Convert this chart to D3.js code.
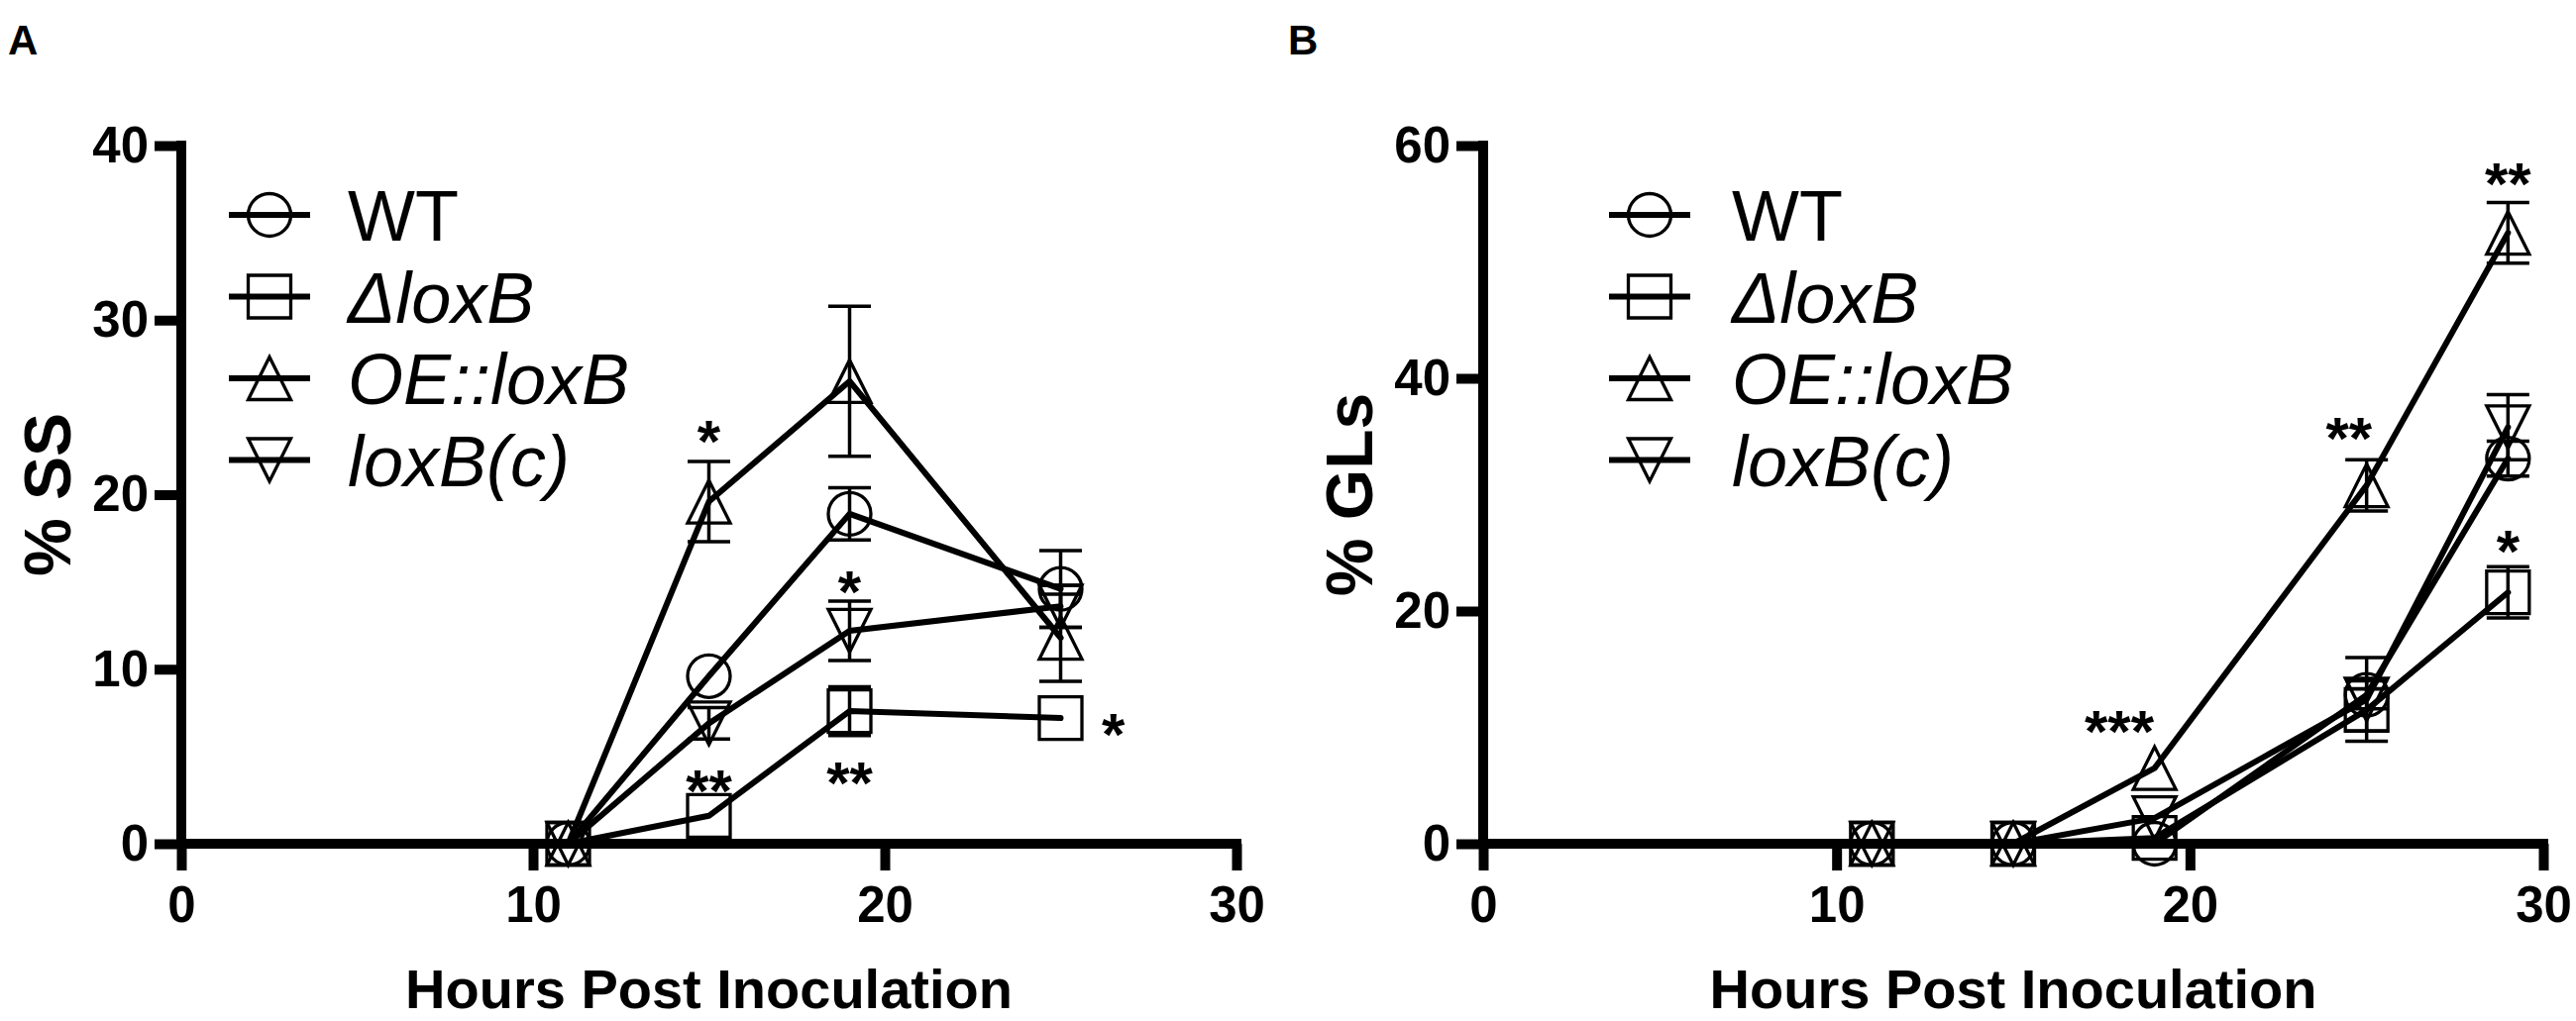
<!DOCTYPE html>
<html lang="en">
<head>
<meta charset="UTF-8">
<title>loxB time course</title>
<style>
  body { margin: 0; padding: 0; background: #fff; }
  svg { display: block; font-family: "Liberation Sans", Arial, sans-serif; }
  .axis text { font-size: 51px; font-weight: bold; fill: #000; }
  .axis line { stroke: #000; stroke-width: 10; }
</style>
</head>
<body>
<svg width="2600" height="1031"></svg>
<script src="https://d3js.org/d3.v7.min.js"></script>
<script>
const strains = ["WT", "\u0394loxB", "OE::loxB", "loxB(c)"];
const shapes = ["circle", "square", "triangle", "triangleDown"];

// panel A: % SS
const hoursA = [11, 15, 19, 25];
const ssWT = [0, 9.6, 18.9, 14.6];
const ssWTErr = [0, 0, 1.5, 2.2];
const ssDelta = [0, 1.6, 7.6, 7.2];
const ssDeltaErr = [0, 0, 1.4, 0];
const ssOE = [0, 19.6, 26.5, 11.8];
const ssOEErr = [0, 2.3, 4.3, 2.5];
const ssComp = [0, 6.9, 12.2, 13.6];
const ssCompErr = [0, 0.9, 1.7, 1.2];
const starsAx = [15, 19, 15, 19, 26.5];
const starsAy = [23.8, 15.2, 3.8, 4.25, 7.0];
const starsAtext = ["*", "*", "**", "**", "*"];
const ticksA = [0, 10, 20, 30, 40];

// panel B: % GLs
const hoursB = [11, 15, 19, 25, 29];
const glWT = [0, 0, 0, 12.8, 33.1];
const glWTErr = [0, 0, 0, 1.2, 1.5];
const glDelta = [0, 0, 0.5, 11.5, 21.6];
const glDeltaErr = [0, 0, 0, 1.8, 2.2];
const glOE = [0, 0, 6.5, 30.8, 52.5];
const glOEErr = [0, 0, 0, 2.2, 2.6];
const glComp = [0, 0, 2.2, 12.4, 35.8];
const glCompErr = [0, 0, 0, 3.6, 2.8];
const starsBx = [18.0, 24.5, 29, 29];
const starsBy = [10.8, 36.0, 57.8, 26.3];
const starsBtext = ["***", "**", "**", "*"];
const ticksB = [0, 20, 40, 60];

const xTicks = [0, 10, 20, 30];

const svg = d3.select("svg");
const markerSize = 43;

function markerPath(shape) {
  const h = markerSize / 2;
  if (shape === "circle") return `M${-h},0A${h},${h} 0 1,0 ${h},0A${h},${h} 0 1,0 ${-h},0Z`;
  if (shape === "square") return `M${-h},${-h}H${h}V${h}H${-h}Z`;
  if (shape === "triangle") return `M0,${-h}L${h},${h}L${-h},${h}Z`;
  return `M0,${h}L${h},${-h}L${-h},${-h}Z`;
}

function drawPanel(p, hours, means, errs, starX, starY, starText) {
  const x = d3.scaleLinear().domain([0, 30]).range([p.left, p.right]);
  const y = d3.scaleLinear().domain([0, p.yMax]).range([p.bottom, p.top]);
  const g = svg.append("g");

  // axes
  const xAxis = g.append("g").attr("class", "axis")
    .attr("transform", `translate(0,${p.bottom})`)
    .call(d3.axisBottom(x).tickValues(xTicks).tickSize(27).tickPadding(16).tickSizeOuter(0));
  const yAxis = g.append("g").attr("class", "axis")
    .attr("transform", `translate(${p.left},0)`)
    .call(d3.axisLeft(y).tickValues(p.yTicks).tickSize(27).tickPadding(6).tickSizeOuter(0));
  xAxis.select(".domain").remove();
  yAxis.select(".domain").remove();
  g.append("line")
    .attr("x1", x(0)).attr("x2", x(30)).attr("y1", y(0)).attr("y2", y(0))
    .attr("stroke", "#000").attr("stroke-width", 10).attr("stroke-linecap", "square");
  g.append("line")
    .attr("x1", x(0)).attr("x2", x(0)).attr("y1", y(0)).attr("y2", y(p.yMax))
    .attr("stroke", "#000").attr("stroke-width", 10).attr("stroke-linecap", "square");

  // axis titles
  g.append("text")
    .attr("transform", `translate(${p.left - 112},${(p.top + p.bottom) / 2}) rotate(-90)`)
    .attr("text-anchor", "middle")
    .attr("font-size", 66).attr("font-weight", "bold")
    .text(p.title);
  g.append("text")
    .attr("x", (p.left + p.right) / 2).attr("y", 1018)
    .attr("text-anchor", "middle")
    .attr("font-size", 56).attr("font-weight", "bold")
    .text("Hours Post Inoculation");

  g.append("text")
    .attr("x", p.letterX).attr("y", 55)
    .attr("font-size", 42).attr("font-weight", "bold")
    .text(p.letter);

  // error bars
  means.forEach((series, si) => {
    series.forEach((m, i) => {
      const e = errs[si][i];
      if (!e) return;
      const cx = x(hours[i]);
      const eb = g.append("g").attr("stroke", "#000").attr("stroke-width", 3.5);
      eb.append("line").attr("x1", cx).attr("x2", cx).attr("y1", y(m - e)).attr("y2", y(m + e));
      [m - e, m + e].forEach(v => {
        eb.append("line")
          .attr("x1", cx - markerSize / 2).attr("x2", cx + markerSize / 2)
          .attr("y1", y(v)).attr("y2", y(v));
      });
    });
  });

  // lines
  const line = d3.line().x((d, i) => x(hours[i])).y(d => y(d));
  means.forEach(series => {
    g.append("path")
      .attr("d", line(series))
      .attr("fill", "none").attr("stroke", "#000").attr("stroke-width", 6)
      .attr("stroke-linejoin", "round").attr("stroke-linecap", "round");
  });

  // markers
  means.forEach((series, si) => {
    g.selectAll(null).data(series).join("path")
      .attr("transform", (d, i) => `translate(${x(hours[i])},${y(d)})`)
      .attr("d", markerPath(shapes[si]))
      .attr("fill", "none").attr("stroke", "#000").attr("stroke-width", 3.3);
  });

  // significance stars
  const starSize = 60;
  g.selectAll(null).data(starText).join("text")
    .attr("x", (d, i) => x(starX[i]))
    .attr("y", (d, i) => y(starY[i]) + starSize * 0.56)
    .attr("text-anchor", "middle")
    .attr("font-size", starSize).attr("font-weight", "bold")
    .text(d => d);

  // legend
  const leg = g.selectAll(null).data(strains).join("g")
    .attr("transform", (d, i) => `translate(${p.legendX},${217 + i * 82.5})`);
  leg.append("line")
    .attr("x1", 0).attr("x2", 82).attr("y1", 0).attr("y2", 0)
    .attr("stroke", "#000").attr("stroke-width", 6);
  leg.append("path")
    .attr("transform", "translate(41,0)")
    .attr("d", (d, i) => markerPath(shapes[i]))
    .attr("fill", "none").attr("stroke", "#000").attr("stroke-width", 3.3);
  leg.append("text")
    .attr("x", p.textX - p.legendX).attr("y", 26)
    .attr("font-size", 72)
    .attr("font-style", (d, i) => i === 0 ? "normal" : "italic")
    .text(d => d);
}

drawPanel(
  { left: 183, right: 1248, top: 147, bottom: 852, yMax: 40, yTicks: ticksA,
    legendX: 231, textX: 351, title: "% SS", letter: "A", letterX: 8 },
  hoursA, [ssWT, ssDelta, ssOE, ssComp], [ssWTErr, ssDeltaErr, ssOEErr, ssCompErr],
  starsAx, starsAy, starsAtext
);

drawPanel(
  { left: 1497, right: 2567, top: 147, bottom: 852, yMax: 60, yTicks: ticksB,
    legendX: 1624, textX: 1748, title: "% GLs", letter: "B", letterX: 1300 },
  hoursB, [glWT, glDelta, glOE, glComp], [glWTErr, glDeltaErr, glOEErr, glCompErr],
  starsBx, starsBy, starsBtext
);
</script>
</body>
</html>
